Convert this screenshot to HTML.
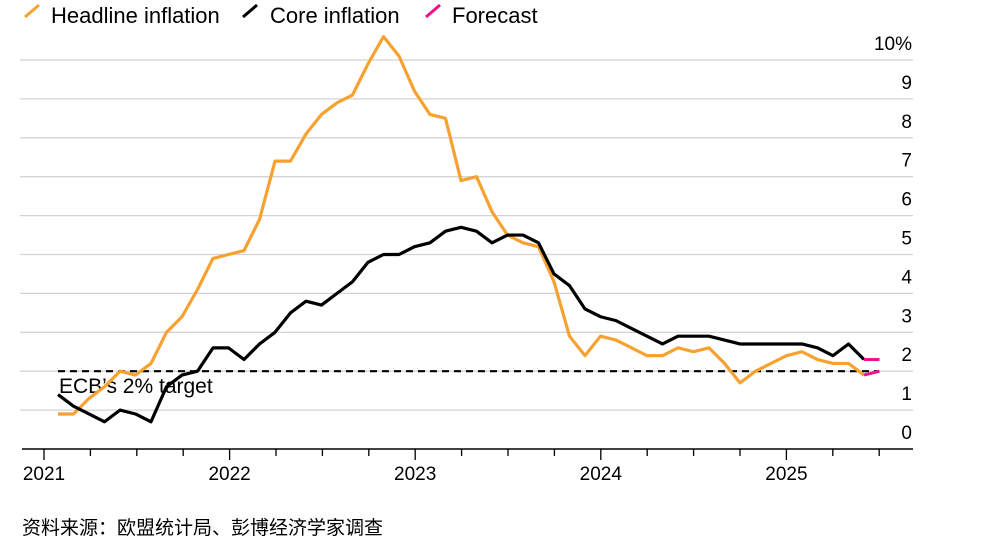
<!DOCTYPE html>
<html><head><meta charset="utf-8"><style>
body{margin:0;background:#fff;width:1006px;height:546px;overflow:hidden;font-family:"Liberation Sans","Noto Sans CJK SC",sans-serif}
svg text{font-family:"Liberation Sans","Noto Sans CJK SC",sans-serif}
</style></head><body>
<svg id="s" width="1006" height="546" xmlns="http://www.w3.org/2000/svg">
<g id="grid"></g>
<g font-size="22" fill="#000">
<line x1="25" y1="17" x2="39" y2="5" stroke="#f7a131" stroke-width="3"/>
<text x="51" y="23">Headline inflation</text>
<line x1="243" y1="17" x2="257" y2="5" stroke="#000" stroke-width="3"/>
<text x="270" y="23">Core inflation</text>
<line x1="426" y1="17" x2="440" y2="5" stroke="#f0108a" stroke-width="3"/>
<text x="452" y="23">Forecast</text>
</g>
<text x="59" y="393" font-size="21">ECB’s 2% target</text>
<text x="22" y="534" font-size="19">资料来源：欧盟统计局、彭博经济学家调查</text>
</svg>
<script>
var s=document.getElementById('s'),g=document.getElementById('grid'),NS='http://www.w3.org/2000/svg';
function el(t,a,p){var e=document.createElementNS(NS,t);for(var k in a)e.setAttribute(k,a[k]);(p||s).appendChild(e);return e;}
function Y(v){return 449-38.9*v;}
for(var v=1;v<=10;v++){if(v!=2)el('line',{x1:20,x2:913,y1:Y(v),y2:Y(v),stroke:'#d4d4d4','stroke-width':1.3},g);
 var t=el('text',{x:912,y:Y(v)-10,'font-size':19,'text-anchor':'end'},g);t.textContent=v==10?'10%':v;}
el('line',{x1:20,x2:913,y1:Y(2),y2:Y(2),stroke:'#d4d4d4','stroke-width':1.3},g);
var t0=el('text',{x:912,y:Y(0)-10,'font-size':19,'text-anchor':'end'},g);t0.textContent='0';
el('line',{x1:22,x2:913,y1:449,y2:449,stroke:'#000','stroke-width':1.5},g);
function X(i){return 58+15.5*i;}
for(var q=0;q<=18;q++){var x=44+46.4*q;var yr=q%4==0;el('line',{x1:x,x2:x,y1:449,y2:yr?460:456,stroke:'#000','stroke-width':1.3},g);
 if(yr){var tt=el('text',{x:x,y:480,'font-size':19,'text-anchor':'middle'},g);tt.textContent=2021+q/4;}}
el('line',{x1:58,x2:878,y1:Y(2),y2:Y(2),stroke:'#000','stroke-width':2.2,'stroke-dasharray':'7,5'});
var H=[0.9,0.9,1.3,1.6,2.0,1.9,2.2,3.0,3.4,4.1,4.9,5.0,5.1,5.9,7.4,7.4,8.1,8.6,8.9,9.1,9.9,10.6,10.1,9.2,8.6,8.5,6.9,7.0,6.1,5.5,5.3,5.2,4.3,2.9,2.4,2.9,2.8,2.6,2.4,2.4,2.6,2.5,2.6,2.2,1.7,2.0,2.2,2.4,2.5,2.3,2.2,2.2,1.9];
var C=[1.4,1.1,0.9,0.7,1.0,0.9,0.7,1.6,1.9,2.0,2.6,2.6,2.3,2.7,3.0,3.5,3.8,3.7,4.0,4.3,4.8,5.0,5.0,5.2,5.3,5.6,5.7,5.6,5.3,5.5,5.5,5.3,4.5,4.2,3.6,3.4,3.3,3.1,2.9,2.7,2.9,2.9,2.9,2.8,2.7,2.7,2.7,2.7,2.7,2.6,2.4,2.7,2.3];
function pts(a){return a.map(function(v,i){return X(i)+','+Y(v);}).join(' ');}
el('polyline',{points:pts(H),fill:'none',stroke:'#f7a131','stroke-width':3.2,'stroke-linejoin':'round'});
el('polyline',{points:pts(C),fill:'none',stroke:'#000','stroke-width':3.2,'stroke-linejoin':'round'});
el('line',{x1:X(52),y1:Y(1.9),x2:X(53),y2:Y(2.0),stroke:'#f0108a','stroke-width':3});
el('line',{x1:X(52),y1:Y(2.3),x2:X(53),y2:Y(2.3),stroke:'#f0108a','stroke-width':3});
</script>
</body></html>
